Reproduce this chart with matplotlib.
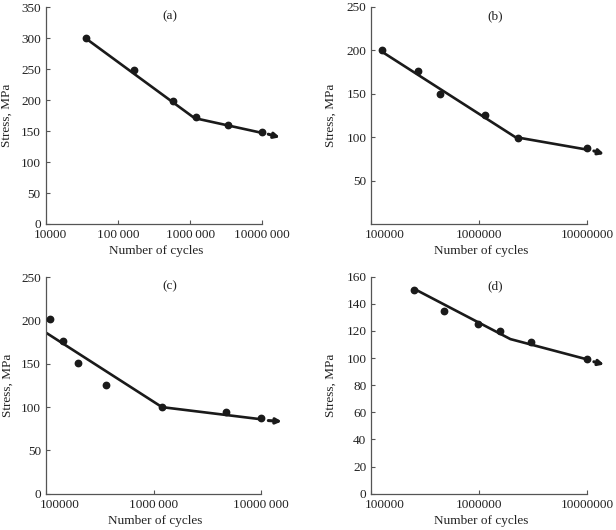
import matplotlib
matplotlib.use('Agg')
import matplotlib.pyplot as plt
import matplotlib.transforms as mtransforms
from matplotlib.ticker import FixedLocator, FixedFormatter

plt.rcParams['font.family'] = ['Liberation Serif', 'DejaVu Serif']
plt.rcParams['font.size'] = 9.5

# panel (a)
a_cycles = [36600, 165000, 586000, 1200000, 3370000, 10000000]
a_stress = [300, 249, 199, 173, 160, 148]
a_fit_x = [36600, 1150000, 10000000]
a_fit_y = [299, 171, 147]
a_arrow = [(12100000, 145), (17500000, 140)]
a_xticks = [1e4, 1e5, 1e6, 1e7]
a_xlabels = ['10000', '100\u2009000', '1000\u2009000', '10000\u2009000']
a_yticks = [0, 50, 100, 150, 200, 250, 300, 350]

# panel (b)
b_cycles = [126000, 268000, 432000, 1120000, 2300000, 10000000]
b_stress = [200, 176, 150, 125, 99, 87]
b_fit_x = [126000, 2150000, 10000000]
b_fit_y = [198, 100, 85.5]
b_arrow = [(11500000, 84), (14300000, 80.5)]
b_xticks = [1e5, 1e6, 1e7]
b_xlabels = ['100000', '1000000', '10000000']
b_yticks = [50, 100, 150, 200, 250]

# panel (c)
c_cycles = [110000, 144000, 197000, 362000, 1200000, 4750000, 10000000]
c_stress = [202, 176, 151, 126, 100, 94, 88]
c_fit_x = [100000, 1200000, 10000000]
c_fit_y = [186, 100, 86]
c_arrow = [(11700000, 84.5), (15600000, 83.5)]
c_xticks = [1e5, 1e6, 1e7]
c_xlabels = ['100000', '1000\u2009000', '10000\u2009000']
c_yticks = [0, 50, 100, 150, 200, 250]

# panel (d)
d_cycles = [250000, 470000, 970000, 1550000, 3030000, 10000000]
d_stress = [150, 135, 125, 120, 112, 99.5]
d_fit_x = [250000, 1940000, 10000000]
d_fit_y = [151, 114, 99]
d_arrow = [(11500000, 97.3), (14300000, 95.3)]
d_xticks = [1e5, 1e6, 1e7]
d_xlabels = ['100000', '1000000', '10000000']
d_yticks = [0, 20, 40, 60, 80, 100, 120, 140, 160]

panels = [
    ('(a)', [0.0742, 0.5774, 0.3516, 0.4089], a_cycles, a_stress, a_fit_x, a_fit_y, a_arrow,
     a_xticks, a_xlabels, a_yticks, (1e4, 1e7), (0, 350), 3.6, -0.152),
    ('(b)', [0.6028, 0.5774, 0.3506, 0.4100], b_cycles, b_stress, b_fit_x, b_fit_y, b_arrow,
     b_xticks, b_xlabels, b_yticks, (1e5, 1e7), (0, 250), 10, -0.158),
    ('(c)', [0.0747, 0.0685, 0.3490, 0.4083], c_cycles, c_stress, c_fit_x, c_fit_y, c_arrow,
     c_xticks, c_xlabels, c_yticks, (1e5, 1e7), (0, 250), 10, -0.152),
    ('(d)', [0.6028, 0.0685, 0.3506, 0.4094], d_cycles, d_stress, d_fit_x, d_fit_y, d_arrow,
     d_xticks, d_xlabels, d_yticks, (1e5, 1e7), (0, 160), 9.5, -0.158),
]

fig = plt.figure(figsize=(6.16, 5.30), dpi=100)

for (tag, rect, xs, ys, fx, fy, arr, xt, xl, yt, xlim, ylim, shift, ylab_x) in panels:
    ax = fig.add_axes(rect)
    ax.set_xscale('log')
    ax.plot(fx, fy, color='#1a1a1a', lw=1.9, solid_capstyle='round', zorder=2)
    ax.plot(xs, ys, 'o', color='#1a1a1a', ms=4.6, zorder=3, clip_on=False)
    ax.annotate('', xy=arr[1], xytext=arr[0], annotation_clip=False,
                arrowprops=dict(arrowstyle='-|>', color='#1a1a1a', lw=2.2,
                                mutation_scale=8, shrinkA=0, shrinkB=0))
    ax.set_xlim(xlim)
    ax.set_ylim(ylim)
    ax.xaxis.set_major_locator(FixedLocator(xt))
    ax.xaxis.set_major_formatter(FixedFormatter(xl))
    ax.xaxis.set_minor_locator(FixedLocator([]))
    ax.set_yticks(yt)
    ax.tick_params(direction='in', length=3, width=0.8, color='#555555', labelcolor='#222222')
    for s in ['top', 'right']:
        ax.spines[s].set_visible(False)
    for s in ['left', 'bottom']:
        ax.spines[s].set_color('#555555')
        ax.spines[s].set_linewidth(0.9)
    # first x label sits a little to the right of the axis corner
    first = ax.get_xticklabels()[0]
    first.set_transform(first.get_transform() +
                        mtransforms.ScaledTranslation(shift / 72, 0, fig.dpi_scale_trans))
    ax.set_xlabel('Number of cycles', color='#222222')
    ax.set_ylabel('Stress, MPa', color='#222222')
    ax.xaxis.set_label_coords(0.51, -0.097)
    ax.yaxis.set_label_coords(ylab_x, 0.5)
    ax.text(0.575, 0.985, tag, transform=ax.transAxes, ha='center', va='top', color='#222222')

fig.savefig('out.png', dpi=100)
